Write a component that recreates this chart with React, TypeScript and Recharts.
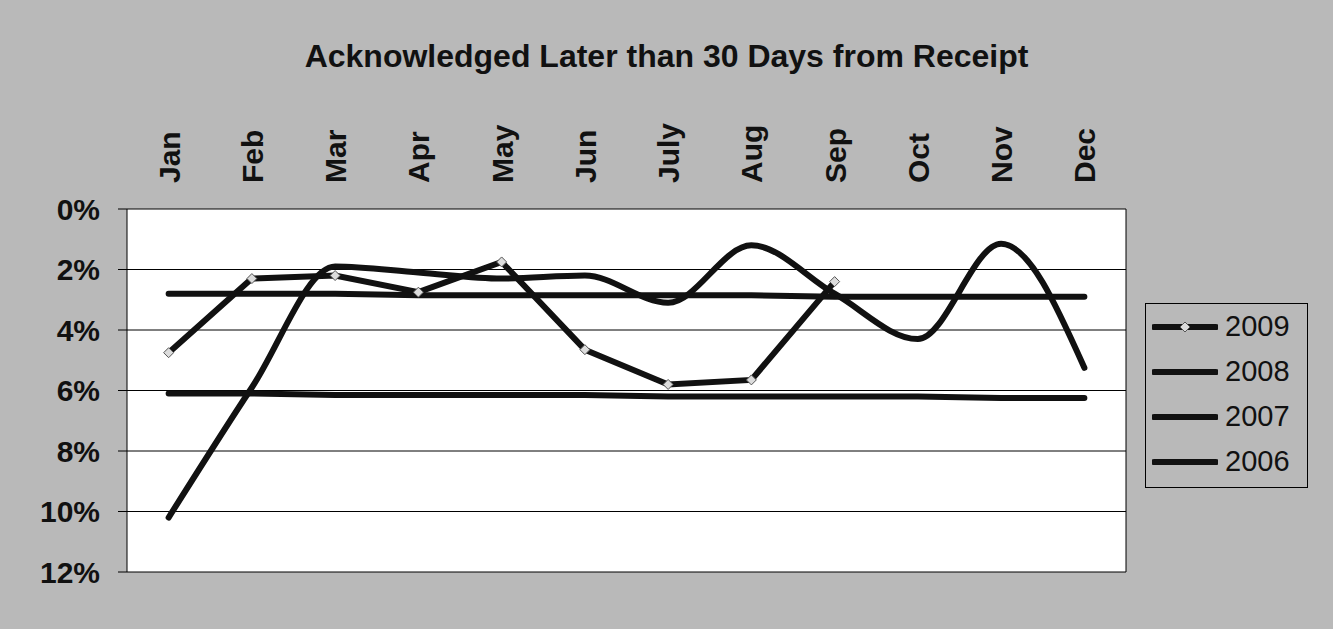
import React from "react";
import { LineChart, Line, XAxis, YAxis, CartesianGrid, Legend } from "recharts";

const TITLE = "Acknowledged Later than 30 Days from Receipt";
const MONTHS = ["Jan", "Feb", "Mar", "Apr", "May", "Jun", "July", "Aug", "Sep", "Oct", "Nov", "Dec"];

// percent values (axis is reversed: 0% on top)
const Y2009 = [4.75, 2.3, 2.2, 2.75, 1.75, 4.65, 5.8, 5.65, 2.4, null, null, null];
const Y2008 = [10.2, 5.9, 1.9, 2.1, 2.3, 2.2, 3.1, 1.2, 2.8, 4.3, 1.15, 5.25];
const Y2007 = [2.8, 2.8, 2.8, 2.85, 2.85, 2.85, 2.85, 2.85, 2.9, 2.9, 2.9, 2.9];
const Y2006 = [6.1, 6.1, 6.15, 6.15, 6.15, 6.15, 6.2, 6.2, 6.2, 6.2, 6.25, 6.25];

const LEGEND_ORDER = ["2009", "2008", "2007", "2006"];
const Y_TICKS = [0, 2, 4, 6, 8, 10, 12];
const EDGE_TICKS = [0, 1, 2, 3, 4, 5, 6, 7, 8, 9, 10, 11, 12];

const data = MONTHS.map((m, i) => ({
  month: m,
  y2009: Y2009[i],
  y2008: Y2008[i],
  y2007: Y2007[i],
  y2006: Y2006[i],
}));

const BG = "#b9b9b9";
const INK = "#111";
const FONT = '"Liberation Sans", Arial, sans-serif';

function Diamond(props: any) {
  const { cx, cy, index } = props;
  if (cx == null || cy == null) return <g key={index} />;
  const r = 5;
  return (
    <path
      key={index}
      d={`M${cx},${cy - r}L${cx + r},${cy}L${cx},${cy + r}L${cx - r},${cy}Z`}
      fill="#dcdcdc"
      stroke="#555"
      strokeWidth={1}
    />
  );
}

function MonthTick(props: any) {
  const { x, y, payload } = props;
  return (
    <text
      x={0}
      y={0}
      transform={`translate(${x + 11},${y - 1}) rotate(-90)`}
      textAnchor="start"
      fontSize={30}
      fontWeight="bold"
      fill={INK}
      fontFamily={FONT}
    >
      {payload.value}
    </text>
  );
}

function LegendBox(props: any) {
  const items = [...(props.payload || [])].sort(
    (a: any, b: any) => LEGEND_ORDER.indexOf(a.value) - LEGEND_ORDER.indexOf(b.value)
  );
  return (
    <div
      style={{
        width: 163,
        height: 185,
        boxSizing: "border-box",
        border: "1px solid #000",
        fontFamily: FONT,
      }}
    >
      {items.map((it: any) => (
        <div key={it.value} style={{ height: 45, display: "flex", alignItems: "center" }}>
          <svg width={66} height={12} style={{ marginLeft: 6 }}>
            <line x1={2} y1={6} x2={64} y2={6} stroke={INK} strokeWidth={6} strokeLinecap="round" />
            {it.value === "2009" && (
              <path d="M33,1L38,6L33,11L28,6Z" fill="#dcdcdc" stroke="#555" strokeWidth={1} />
            )}
          </svg>
          <span style={{ marginLeft: 7, fontSize: 29, color: INK, lineHeight: "29px" }}>{it.value}</span>
        </div>
      ))}
    </div>
  );
}

export default function App() {
  return (
    <div
      style={{
        position: "absolute",
        left: 0,
        top: 0,
        width: 1333,
        height: 629,
        background: BG,
        fontFamily: FONT,
      }}
    >
      <LineChart width={1333} height={629} data={data} margin={{ top: 0, right: 206, bottom: 57, left: 0 }}>
        <CartesianGrid horizontal vertical={false} stroke="#000" fill="#fff" fillOpacity={1} />
        <XAxis
          xAxisId="edge"
          type="number"
          domain={[0, 12]}
          ticks={EDGE_TICKS}
          orientation="top"
          height={0}
          tickSize={9}
          tickFormatter={() => ""}
          axisLine={{ stroke: "#000" }}
          tickLine={{ stroke: "#000" }}
          allowDataOverflow
          interval={0}
        />
        <XAxis
          dataKey="month"
          orientation="top"
          scale="band"
          height={209}
          axisLine={false}
          tickLine={false}
          tickSize={0}
          tickMargin={25}
          interval={0}
          tick={<MonthTick />}
        />
        <YAxis
          reversed
          domain={[0, 12]}
          ticks={Y_TICKS}
          interval={0}
          width={127}
          tickSize={9}
          tickMargin={18}
          tickFormatter={(v) => `${v}%`}
          tick={{ fill: INK, fontSize: 30, fontWeight: "bold", fontFamily: FONT }}
          axisLine={{ stroke: "#000" }}
          tickLine={{ stroke: "#000" }}
          allowDataOverflow
        />
        <YAxis
          yAxisId="r"
          orientation="right"
          domain={[0, 12]}
          width={1}
          tick={false}
          tickLine={false}
          axisLine={{ stroke: "#000" }}
        />
        <Legend
          layout="vertical"
          align="center"
          verticalAlign="middle"
          wrapperStyle={{ left: 1145, top: 303, width: 163, height: 185 }}
          content={<LegendBox />}
        />
        <Line
          dataKey="y2009"
          name="2009"
          type="linear"
          stroke={INK}
          strokeWidth={6}
          dot={Diamond}
          activeDot={false}
          isAnimationActive={false}
        />
        <Line
          dataKey="y2008"
          name="2008"
          type="monotone"
          stroke={INK}
          strokeWidth={6}
          strokeLinecap="round"
          dot={false}
          activeDot={false}
          isAnimationActive={false}
        />
        <Line
          dataKey="y2007"
          name="2007"
          type="linear"
          stroke={INK}
          strokeWidth={6}
          strokeLinecap="round"
          dot={false}
          activeDot={false}
          isAnimationActive={false}
        />
        <Line
          dataKey="y2006"
          name="2006"
          type="linear"
          stroke={INK}
          strokeWidth={6}
          strokeLinecap="round"
          dot={false}
          activeDot={false}
          isAnimationActive={false}
        />
      </LineChart>
      <div
        style={{
          position: "absolute",
          left: 0,
          top: 40,
          width: 1333,
          textAlign: "center",
          fontSize: 32,
          fontWeight: "bold",
          lineHeight: "32px",
          color: INK,
        }}
      >
        {TITLE}
      </div>
    </div>
  );
}
